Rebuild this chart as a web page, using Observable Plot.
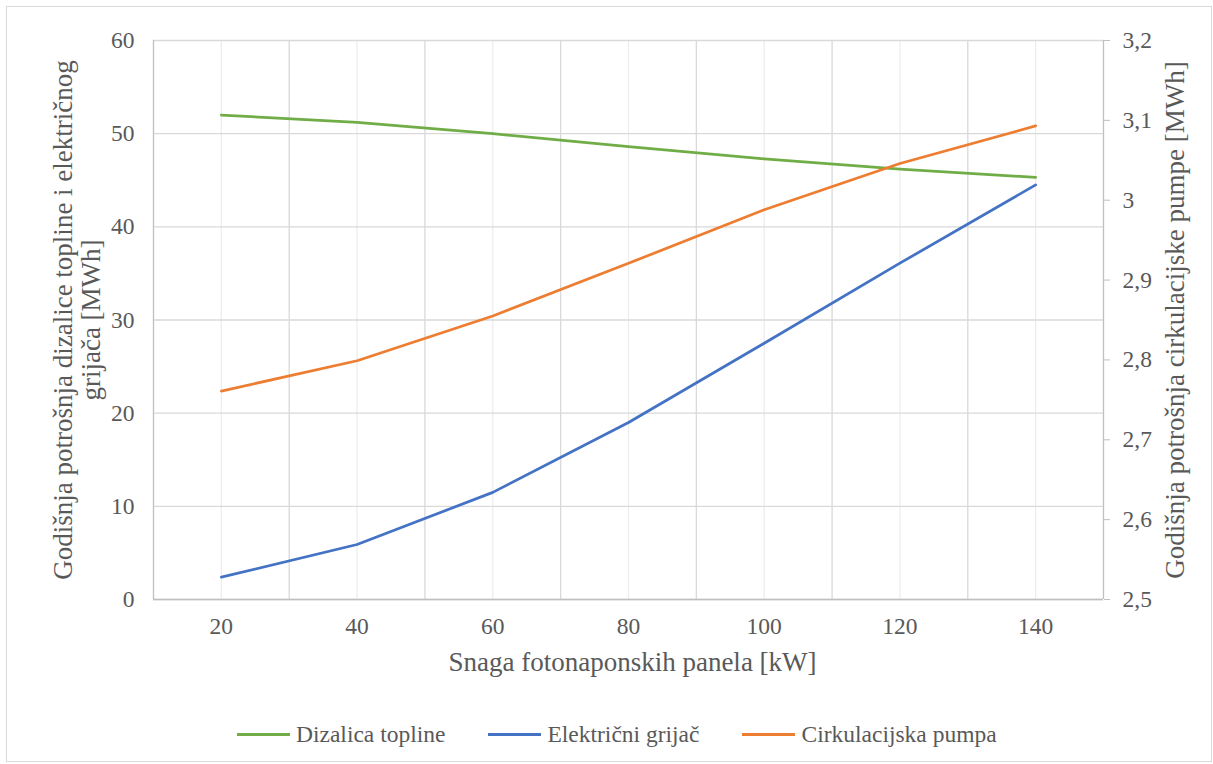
<!DOCTYPE html>
<html>
<head>
<meta charset="utf-8">
<script src="https://cdn.jsdelivr.net/npm/d3@7"></script>
<script src="https://cdn.jsdelivr.net/npm/@observablehq/plot@0.6"></script>
<style>
  html, body { margin: 0; padding: 0; background: #fff; }
  #wrap { position: relative; width: 1213px; height: 764px; background: #fff; overflow: hidden; font-family: "Liberation Serif", "Times New Roman", "Tinos", "Nimbus Roman", "Noto Serif", "DejaVu Serif", serif; color: #595959; }
  #border { position: absolute; left: 6px; top: 6px; width: 1206px; height: 756px; border: 1px solid #D9D9D9; box-sizing: border-box; }
  #chart { position: absolute; left: 0; top: 0; }
  #legend { position: absolute; left: 237px; top: 718px; height: 32px; display: flex; align-items: center; font-size: 23.5px; white-space: nowrap; }
  .item { display: flex; align-items: center; margin-right: 43px; }
  .swatch { width: 53px; height: 3px; margin-right: 6px; }
  #chart svg, #chart svg text { font-family: "Liberation Serif", "Times New Roman", "Tinos", "Nimbus Roman", "Noto Serif", "DejaVu Serif", serif !important; }
</style>
</head>
<body>
<div id="wrap">
  <div id="border"></div>
  <div id="chart"></div>
  <div id="legend"></div>
</div>
<script>
// ---- data ----
const snaga = [20, 40, 60, 80, 100, 120, 140];                      // kW
const dizalicaTopline = [52.0, 51.2, 50.0, 48.6, 47.3, 46.2, 45.3];  // MWh (left)
const elektricniGrijac = [2.4, 5.9, 11.5, 19.0, 27.5, 36.1, 44.5];   // MWh (left)
const cirkulacijskaPumpa = [2.761, 2.799, 2.855, 2.921, 2.988, 3.046, 3.093]; // MWh (right)

const xDomain = [10, 150];
const xTicks = [20, 40, 60, 80, 100, 120, 140];
const xMajorGrid = [30, 50, 70, 90, 110, 130];
const leftDomain = [0, 60];
const leftTicks = [0, 10, 20, 30, 40, 50, 60];
const rightDomain = [2.5, 3.2];
const rightTicks = [2.5, 2.6, 2.7, 2.8, 2.9, 3.0, 3.1, 3.2];

const seriesNames = ["Dizalica topline", "Električni grijač", "Cirkulacijska pumpa"];
const seriesColors = ["#70AD47", "#4472C4", "#ED7D31"];

const xTitle = "Snaga fotonaponskih panela [kW]";
const leftTitle = "Godišnja potrošnja dizalice topline i električnog\ngrijača [MWh]";
const rightTitle = "Godišnja potrošnja cirkulacijske pumpe [MWh]";

// ---- mapping right axis onto left scale ----
const toLeft = d3.scaleLinear().domain(rightDomain).range(leftDomain);
const fmtComma = v => String(Math.round(v * 10) / 10).replace(".", ",");

const rows = [];
snaga.forEach((s, i) => {
  rows.push({x: s, y: dizalicaTopline[i], series: seriesNames[0]});
  rows.push({x: s, y: elektricniGrijac[i], series: seriesNames[1]});
  rows.push({x: s, y: toLeft(cirkulacijskaPumpa[i]), series: seriesNames[2]});
});

const W = 1213, H = 700;
const chart = Plot.plot({
  width: W,
  height: H,
  marginLeft: 153,
  marginRight: 110,
  marginTop: 40,
  marginBottom: H - 599,
  style: {fontFamily: "Liberation Serif, DejaVu Serif, serif", fontSize: "23.5px", color: "#595959", background: "transparent"},
  x: {domain: xDomain},
  y: {domain: leftDomain},
  color: {domain: seriesNames, range: seriesColors},
  marks: [
    Plot.gridX(xTicks, {stroke: "#EDEDED", strokeOpacity: 1, strokeWidth: 1.3}),
    Plot.gridX(xMajorGrid, {stroke: "#D9D9D9", strokeOpacity: 1, strokeWidth: 1.3}),
    Plot.gridY(leftTicks, {stroke: "#D9D9D9", strokeOpacity: 1, strokeWidth: 1.3}),
    Plot.ruleX(xDomain, {stroke: "#BFBFBF", strokeWidth: 1.3}),
    Plot.ruleY([leftDomain[0]], {stroke: "#BFBFBF", strokeWidth: 1.3}),
    Plot.axisX(xTicks, {anchor: "bottom", tickSize: 0, tickPadding: 18, label: null, fill: "#595959"}),
    Plot.axisY(leftTicks, {anchor: "left", tickSize: 0, tickPadding: 19, label: null, fill: "#595959"}),
    Plot.axisY(rightTicks.map(toLeft), {anchor: "right", tickSize: 6, tickPadding: 13, label: null,
      stroke: "#BFBFBF", fill: "#595959", tickFormat: d => fmtComma(toLeft.invert(d))}),
    Plot.line(rows, {x: "x", y: "y", z: "series", stroke: "series", strokeWidth: 2.75, curve: "linear"}),
    Plot.text([xTitle], {frameAnchor: "bottom", dx: 4, dy: 63, lineAnchor: "middle", textAnchor: "middle", fontSize: 27, fill: "#595959"}),
    Plot.text([leftTitle], {frameAnchor: "left", dx: -76.6, rotate: -90, textAnchor: "middle", lineAnchor: "middle", lineHeight: 1.04, fontSize: 27, fill: "#595959"}),
    Plot.text([rightTitle], {frameAnchor: "right", dx: 71.4, rotate: -90, textAnchor: "middle", lineAnchor: "middle", fontSize: 27, fill: "#595959"})
  ]
});
document.getElementById("chart").appendChild(chart);

// ---- legend ----
const legend = document.getElementById("legend");
seriesNames.forEach((name, i) => {
  const item = document.createElement("div");
  item.className = "item";
  const sw = document.createElement("span");
  sw.className = "swatch";
  sw.style.background = seriesColors[i];
  const label = document.createElement("span");
  label.textContent = name;
  item.appendChild(sw);
  item.appendChild(label);
  legend.appendChild(item);
});
</script>
</body>
</html>
